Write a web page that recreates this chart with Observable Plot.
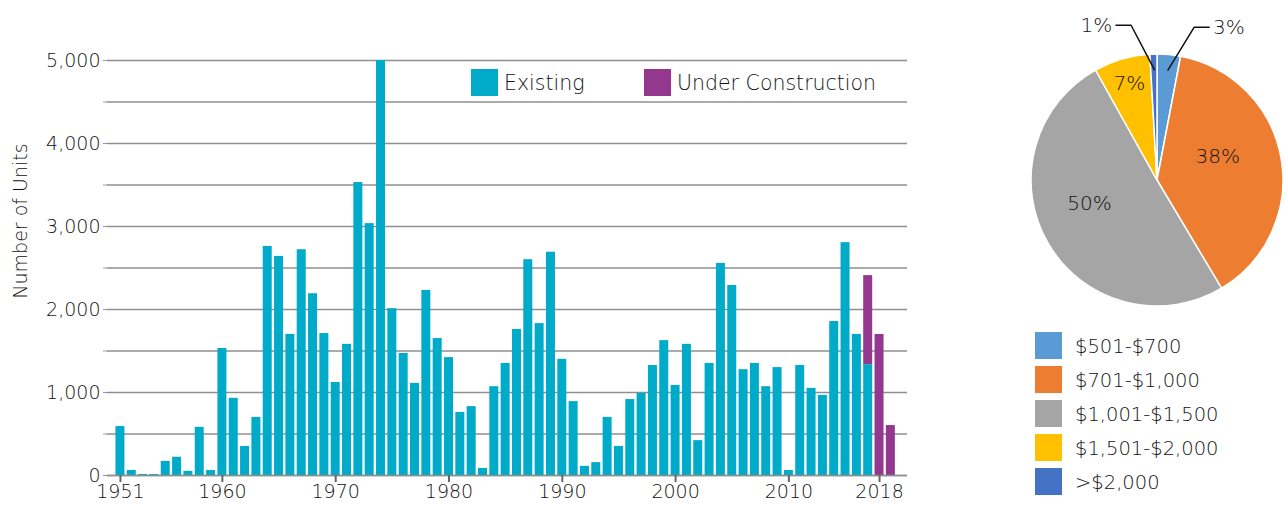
<!DOCTYPE html>
<html><head><meta charset="utf-8">
<script src="https://cdn.jsdelivr.net/npm/d3@7"></script>
<script src="https://cdn.jsdelivr.net/npm/@observablehq/plot@0.6"></script>
<style>
body{margin:0;background:#fff;font-family:"DejaVu Sans",sans-serif;color:#111}
#wrap{position:relative;width:1286px;height:505px;overflow:hidden;background:#fff}
#bar{position:absolute;left:0;top:0}
#pie{position:absolute;left:1020px;top:0}
.lg{position:absolute;display:flex;align-items:center;font-weight:300;line-height:27px;white-space:nowrap;color:#111}
.sw{width:27px;height:27px;display:inline-block}
.tx{padding-top:2px}
</style></head><body><div id="wrap"><div id="bar"></div><div id="pie"></div></div>
<script>
// ---- Bar chart data ----
const years = [1951,1952,1953,1954,1955,1956,1957,1958,1959,1960,
  1961,1962,1963,1964,1965,1966,1967,1968,1969,1970,
  1971,1972,1973,1974,1975,1976,1977,1978,1979,1980,
  1981,1982,1983,1984,1985,1986,1987,1988,1989,1990,
  1991,1992,1993,1994,1995,1996,1997,1998,1999,2000,
  2001,2002,2003,2004,2005,2006,2007,2008,2009,2010,
  2011,2012,2013,2014,2015,2016,2017,2018,2019];
const existing = [590,60,12,12,170,220,50,580,60,1530,
  930,350,700,2760,2640,1700,2720,2190,1710,1120,
  1580,3530,3035,5000,2010,1470,1110,2230,1650,1420,
  760,830,85,1070,1350,1760,2600,1830,2690,1400,
  890,110,155,700,350,915,990,1325,1625,1085,
  1580,420,1350,2555,2290,1275,1350,1070,1300,60,
  1325,1050,965,1855,2805,1700,1335,0,0];
const ucYears = [2017, 2018, 2019];
const underConstruction = [1073, 1699, 602];
const statuses = ["Existing", "Under Construction"];
const xTicks = [1951, 1960, 1970, 1980, 1990, 2000, 2010, 2018];
const yTicks = [0, 500, 1000, 1500, 2000, 2500, 3000, 3500, 4000, 4500, 5000];
const yTitle = "Number of Units";

// ---- Pie data ----
const priceRanges = ["$501-$700", "$701-$1,000", "$1,001-$1,500", "$1,501-$2,000", ">$2,000"];
const shares = [3.0, 38.4, 50.4, 7.2, 0.9];
const shareLabels = ["3%", "38%", "50%", "7%", "1%"];

const barColors = ["#00ABCA", "#94378F"];
const pieColors = ["#5B9BD5", "#ED7D31", "#A5A5A5", "#FFC000", "#4472C4"];
const TEXT = "#111";

const table = [];
years.forEach((y, i) => { if (existing[i] > 0) table.push({year: y, units: existing[i], status: statuses[0]}); });
ucYears.forEach((y, i) => table.push({year: y, units: underConstruction[i], status: statuses[1]}));

const FONT = '"DejaVu Sans", sans-serif';

const bar = Plot.plot({
  width: 930, height: 505,
  marginLeft: 107, marginRight: 23, marginTop: 60, marginBottom: 30,
  style: {fontFamily: FONT, fontSize: "19px", fontWeight: 300, color: TEXT, background: "transparent"},
  x: {type: "band", domain: years, paddingInner: 0.206, paddingOuter: 0.908, align: 0.41, round: false, label: null},
  y: {domain: [0, 5000], label: null},
  color: {domain: statuses, range: barColors},
  marks: [
    Plot.gridY(yTicks, {stroke: "#8f8f8f", strokeOpacity: 1, strokeWidth: 1.3}),
    Plot.barY(table, Plot.stackY({x: "year", y: "units", fill: "status"})),
    Plot.ruleY([0], {stroke: "#8f8f8f", strokeWidth: 1.3}),
    Plot.axisY(yTicks, {tickFormat: d => d % 1000 === 0 ? d3.format(",")(d) : "", tickSize: 4, tickPadding: 3,
      stroke: "#999", fill: TEXT, label: null}),
    Plot.text([yTitle], {frameAnchor: "left", rotate: -90, dx: -87, dy: -47, text: d => d, fill: TEXT, fontSize: 19, textAnchor: "middle", lineAnchor: "middle"}),
    Plot.axisX(xTicks, {tickFormat: d => `${d}`, tickSize: 7, tickPadding: 2, stroke: "#666", strokeWidth: 2, fill: TEXT, label: null})
  ]
});
document.getElementById("bar").append(bar);

// bar legend
statuses.forEach((s, i) => {
  const el = document.createElement("div");
  el.className = "lg";
  el.style.fontSize = "20.5px";
  el.style.left = (i === 0 ? 471 : 644) + "px";
  el.style.top = "68px";
  el.innerHTML = `<span class="sw" style="background:${barColors[i]}"></span><span class="tx" style="margin-left:6px">${s}</span>`;
  document.getElementById("wrap").append(el);
});

// ---- Pie ----
const pieData = priceRanges.map((r, i) => ({range: r, share: shares[i], label: shareLabels[i]}));
const arcs = d3.pie().sort(null).value(d => d.share)(pieData);
const polar = (a, r) => ({x: r * Math.sin(a), y: r * Math.cos(a)});
const bigInside = [], smallInside = [], leaders = [], outside = [];
arcs.forEach(d => {
  const mid = (d.startAngle + d.endAngle) / 2;
  if (d.data.share > 20) {
    bigInside.push({...polar(mid, 0.55), label: d.data.label});
  } else if (d.data.share >= 5) {
    smallInside.push({...polar(mid, 0.8), label: d.data.label});
  } else {
    const side = Math.sin(mid) >= 0 ? 1 : -1;
    const s = polar(mid, 0.88);
    const e = polar(mid + side * 0.14, 1.25);
    const f = {x: e.x + side * 0.12, y: e.y};
    leaders.push({...s, k: d.data.label}, {...e, k: d.data.label}, {...f, k: d.data.label});
    outside.push({x: f.x + side * 0.03, y: f.y, label: d.data.label, anchor: side > 0 ? "start" : "end"});
  }
});

function slices(index, scales) {
  const cx = scales.x(0), cy = scales.y(0), r = scales.x(1) - cx;
  const arc = d3.arc().innerRadius(0).outerRadius(r);
  const g = d3.create("svg:g").attr("transform", `translate(${cx},${cy})`);
  g.selectAll("path").data(arcs).join("path")
    .attr("d", arc)
    .attr("fill", (d, i) => pieColors[i])
    .attr("stroke", "#fff").attr("stroke-width", 1.5);
  return g.node();
}

const pie = Plot.plot({
  width: 266, height: 320, margin: 0,
  style: {fontFamily: FONT, fontSize: "20px", fontWeight: 300, color: TEXT, background: "transparent", overflow: "visible"},
  x: {domain: [-1, 1], range: [11, 263], axis: null},
  y: {domain: [-1, 1], range: [306, 54], axis: null},
  marks: [
    slices,
    Plot.text(bigInside, {x: "x", y: "y", text: "label", fill: TEXT, fontSize: 20, dx: -8, dy: -12}),
    Plot.text(smallInside, {x: "x", y: "y", text: "label", fill: TEXT, fontSize: 20}),
    Plot.line(leaders, {x: "x", y: "y", z: "k", stroke: "#111", strokeWidth: 1.5}),
    Plot.text(outside.filter(d => d.anchor === "start"), {x: "x", y: "y", text: "label", textAnchor: "start", fill: TEXT, fontSize: 20}),
    Plot.text(outside.filter(d => d.anchor === "end"), {x: "x", y: "y", text: "label", textAnchor: "end", fill: TEXT, fontSize: 20})
  ]
});
document.getElementById("pie").append(pie);

// pie legend
priceRanges.forEach((r, i) => {
  const el = document.createElement("div");
  el.className = "lg";
  el.style.fontSize = "19.5px";
  el.style.left = "1035px";
  el.style.top = (331 + i * 34) + "px";
  el.innerHTML = `<span class="sw" style="background:${pieColors[i]}"></span><span class="tx" style="margin-left:13px">${r}</span>`;
  document.getElementById("wrap").append(el);
});
</script></body></html>
